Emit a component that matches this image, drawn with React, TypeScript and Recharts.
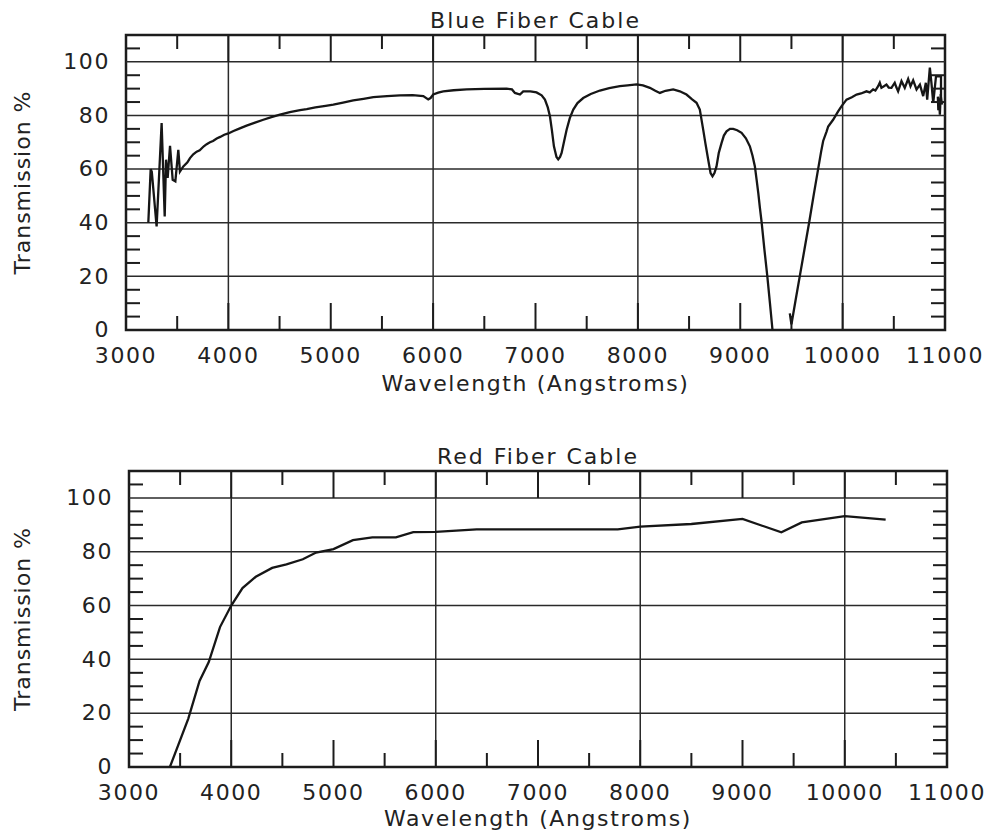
import React from "react";
import {
  LineChart,
  Line,
  XAxis,
  YAxis,
  ReferenceLine,
  ReferenceArea,
} from "recharts";

// Blue fiber cable, wavelength (Angstroms) and transmission (%)
const blueWave = [
  3218, 3241, 3252, 3299, 3348, 3378, 3391, 3407, 3430, 3456, 3482, 3511,
  3527, 3560, 3600, 3625, 3657, 3690, 3720, 3760, 3788, 3820, 3850, 3886,
  3920, 3960, 4000, 4050, 4100, 4178, 4260, 4341, 4420, 4504, 4600, 4700,
  4765, 4850, 4950, 5025, 5120, 5220, 5320, 5416, 5550, 5676, 5800, 5904,
  5952, 5975, 6001, 6050, 6099, 6200, 6327, 6500, 6718, 6770, 6799, 6848,
  6880, 6950, 7010, 7060, 7092, 7120, 7141, 7160, 7180, 7205, 7222, 7240,
  7255, 7280, 7304, 7335, 7369, 7410, 7466, 7540, 7629, 7720, 7824, 7900,
  7987, 8050, 8117, 8170, 8215, 8270, 8345, 8410, 8475, 8530, 8573, 8605,
  8638, 8660, 8687, 8710, 8729, 8748, 8768, 8790, 8817, 8840, 8866, 8900,
  8931, 8970, 9013, 9055, 9094, 9120, 9143, 9160, 9176, 9192, 9209, 9236,
  9264, 9290, 9315, 9400, 9484, 9500, 9540, 9582, 9627, 9673, 9718, 9761,
  9790, 9810, 9843, 9859, 9907, 9956, 9990, 10038, 10090, 10136, 10180,
  10233, 10265, 10298, 10320, 10347, 10363, 10379, 10400, 10428, 10450,
  10477, 10509, 10525, 10542, 10575, 10607, 10640, 10663, 10689, 10722,
  10755, 10787, 10813, 10826, 10852, 10868, 10885, 10912, 10961, 10961,
  10935, 10930, 10945, 10950, 10958, 10970,
];
const blueTrans = [
  40, 60, 59, 38.6, 77.2, 42.3, 63.5, 56.7, 68.7, 56, 55.4, 67.2,
  59.1, 61, 62.5, 64.1, 65.5, 66.5, 67, 68.5, 69.3, 70, 70.5, 71.4,
  72, 72.8, 73.3, 74.2, 75, 76.2, 77.3, 78.4, 79.4, 80.3, 81.2, 82,
  82.4, 83, 83.6, 84, 84.8, 85.6, 86.2, 86.8, 87.2, 87.5, 87.6, 87.2,
  86, 86.5, 87.8, 88.5, 89, 89.4, 89.7, 89.9, 90, 89.7, 88.4, 87.8,
  89, 89, 88.6, 87.5, 85.9, 83, 79.7, 74.5, 68.5, 64.5, 63.6, 64.5,
  66, 70.5, 74.7, 79, 82.2, 84.6, 86.5, 88, 89.3, 90.2, 90.9, 91.2,
  91.6, 91.2, 90.3, 89.2, 88.4, 89.2, 89.7, 89, 87.8, 86, 84.7, 82.2,
  74.7, 69.5, 63.5, 58.5, 57.3, 58.5, 61, 66, 69.7, 72.5, 74.1, 75,
  75, 74.5, 73.5, 71.5, 68.5, 65, 61, 56, 51.1, 45.5, 40.1, 30,
  20.2, 10, 0, null, 6.2, 2.1, 11, 20.2, 30, 40.1, 50.5, 60.1,
  66.5, 70.5, 74, 75.9, 78.4, 81.5, 83.5, 85.9, 86.8, 87.8, 88.2,
  89, 88.6, 89.7, 89.3, 90.9, 92.2, 90.3, 90.8, 91.5, 90.4,
  90.3, 92.2, 90.5, 89, 92.8, 90.3, 93.6, 90.9, 93.1, 89.7,
  91.5, 87.2, 92.2, 85.9, 97.8, 92, 84.7, 94.6, 94.6, 85,
  82, 87, 84, 80.3, 88, 84,
];

// Red fiber cable
const redWave = [
  3400, 3580, 3690, 3780, 3890, 4000, 4110, 4240, 4400, 4540, 4700, 4830,
  5000, 5190, 5380, 5610, 5780, 6000, 6400, 7780, 8000, 8500, 9000, 9380,
  9580, 10000, 10400,
];
const redTrans = [
  0, 18, 32, 39, 52, 60, 66.5, 70.7, 74, 75.3, 77.2, 79.7,
  81, 84.3, 85.3, 85.3, 87.3, 87.4, 88.3, 88.3, 89.3, 90.3, 92.2, 87.2,
  90.9, 93.2, 91.9,
];

const xTicks = [
  3000, 3500, 4000, 4500, 5000, 5500, 6000, 6500, 7000, 7500, 8000, 8500,
  9000, 9500, 10000, 10500, 11000,
];
const yTicks = [
  0, 5, 10, 15, 20, 25, 30, 35, 40, 45, 50, 55, 60, 65, 70, 75, 80, 85, 90,
  95, 100, 105,
];
const gridX = [4000, 6000, 8000, 10000];
const gridY = [20, 40, 60, 80, 100];

const INK = "#1c1c1c";
const FONT = "'DejaVu Sans', sans-serif";
const textStyle = {
  fontFamily: FONT,
  fontSize: 22,
  fill: "#222",
  letterSpacing: 1.6,
};

type Box = { left: number; right: number; top: number; bottom: number };

function zip(w: number[], t: (number | null)[]) {
  return w.map((v, i) => ({ w: v, t: t[i] }));
}

function makeXTick(box: Box, labelY: number) {
  return (props: any) => {
    const { x, payload } = props;
    const v = payload.value as number;
    const major = v % 1000 === 0;
    const len = major ? 27 : 14;
    const inner = v > 3000 && v < 11000;
    return (
      <g>
        {inner && (
          <line x1={x} x2={x} y1={box.bottom} y2={box.bottom - len} stroke={INK} strokeWidth={2} />
        )}
        {inner && (
          <line x1={x} x2={x} y1={box.top} y2={box.top + len} stroke={INK} strokeWidth={2} />
        )}
        {major && (
          <text x={x} y={labelY} textAnchor="middle" style={textStyle}>
            {v}
          </text>
        )}
      </g>
    );
  };
}

function makeYTick(box: Box) {
  return (props: any) => {
    const { y, payload } = props;
    const v = payload.value as number;
    const label = v % 20 === 0;
    return (
      <g>
        {!label && (
          <line x1={box.left} x2={box.left + 14} y1={y} y2={y} stroke={INK} strokeWidth={2} />
        )}
        {!label && (
          <line x1={box.right - 14} x2={box.right} y1={y} y2={y} stroke={INK} strokeWidth={2} />
        )}
        {label && (
          <text x={box.left - 16} y={y} dy="0.33em" textAnchor="end" style={textStyle}>
            {v}
          </text>
        )}
      </g>
    );
  };
}

function FiberChart(props: {
  title: string;
  rows: { w: number; t: number | null }[];
  top: number;
  height: number;
  box: Box;
  tickLabelY: number;
  titleOffset: number;
}) {
  const { title, rows, top, height, box } = props;
  return (
    <div style={{ position: "absolute", left: 0, top, width: 994, height }}>
      <div
        style={{
          position: "absolute",
          left: box.left,
          width: box.right - box.left,
          top: 10,
          lineHeight: "22px",
          textAlign: "center",
          fontFamily: FONT,
          fontSize: 22,
          color: "#222",
          letterSpacing: 2,
        }}
      >
        {title}
      </div>
      <LineChart
        width={994}
        height={height}
        data={rows}
        margin={{ top: box.top, right: 994 - box.right, bottom: 0, left: 0 }}
      >
        <XAxis
          dataKey="w"
          type="number"
          domain={[3000, 11000]}
          ticks={xTicks}
          interval={0}
          height={height - box.bottom}
          tick={makeXTick(box, props.tickLabelY)}
          tickLine={false}
          axisLine={false}
          allowDataOverflow
          label={{
            value: "Wavelength (Angstroms)",
            position: "insideBottom",
            offset: props.titleOffset,
            style: textStyle,
          }}
        />
        <YAxis
          type="number"
          domain={[0, 110]}
          ticks={yTicks}
          interval={0}
          width={box.left}
          tick={makeYTick(box)}
          tickLine={false}
          axisLine={false}
          allowDataOverflow
          label={{
            value: "Transmission %",
            angle: -90,
            position: "insideLeft",
            offset: 22.5,
            style: { ...textStyle, letterSpacing: 1, textAnchor: "middle" },
          }}
        />
        {gridY.map((v) => (
          <ReferenceLine key={"h" + v} y={v} stroke="#2a2a2a" strokeWidth={1.5} />
        ))}
        {gridX.map((v) => (
          <ReferenceLine key={"v" + v} x={v} stroke="#2a2a2a" strokeWidth={1.5} />
        ))}
        <ReferenceArea
          x1={3000}
          x2={11000}
          y1={0}
          y2={110}
          fill="none"
          fillOpacity={0}
          stroke={INK}
          strokeWidth={2.5}
          strokeOpacity={1}
        />
        <Line
          type="linear"
          dataKey="t"
          stroke="#161616"
          strokeWidth={2.3}
          dot={false}
          connectNulls={false}
          isAnimationActive={false}
        />
      </LineChart>
    </div>
  );
}

export default function App() {
  return (
    <div style={{ position: "absolute", left: 0, top: 0, width: 994, height: 835, background: "#fff" }}>
      <FiberChart
        title="Blue Fiber Cable"
        rows={zip(blueWave, blueTrans)}
        top={0}
        height={420}
        box={{ left: 126, right: 945, top: 35, bottom: 330 }}
        tickLabelY={363}
        titleOffset={29}
      />
      <FiberChart
        title="Red Fiber Cable"
        rows={zip(redWave, redTrans)}
        top={436}
        height={399}
        box={{ left: 129, right: 947, top: 35, bottom: 331 }}
        tickLabelY={364}
        titleOffset={9}
      />
    </div>
  );
}
